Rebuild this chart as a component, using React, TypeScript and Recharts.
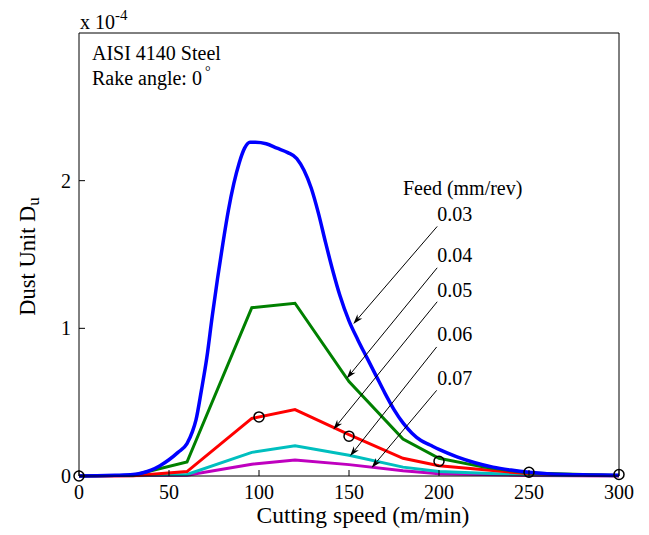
import React from "react";
import {
  ComposedChart,
  Line,
  Scatter,
  XAxis,
  YAxis,
  ReferenceLine,
  ReferenceDot,
} from "recharts";

const FONT = "'Liberation Serif', 'Times New Roman', serif";

const speedTicks = [0, 50, 100, 150, 200, 250, 300];
const dustTicks = [0, 1, 2];

// Dust unit in units of 1e-4, feed 0.03 mm/rev
const feed003 = [
  { x: 0, y: 0 }, { x: 10, y: 0.002 }, { x: 20, y: 0.005 }, { x: 30, y: 0.01 },
  { x: 35, y: 0.02 }, { x: 40, y: 0.04 }, { x: 45, y: 0.07 }, { x: 50, y: 0.11 },
  { x: 55, y: 0.16 }, { x: 60, y: 0.22 }, { x: 63, y: 0.3 }, { x: 65, y: 0.38 },
  { x: 68, y: 0.58 }, { x: 71, y: 0.8 }, { x: 74, y: 1.08 }, { x: 77, y: 1.34 },
  { x: 80, y: 1.58 }, { x: 83, y: 1.8 }, { x: 86, y: 1.98 }, { x: 89, y: 2.12 },
  { x: 92, y: 2.22 }, { x: 95, y: 2.26 }, { x: 98, y: 2.26 }, { x: 104, y: 2.25 },
  { x: 110, y: 2.22 }, { x: 116, y: 2.19 }, { x: 121, y: 2.15 }, { x: 125, y: 2.07 },
  { x: 129, y: 1.95 }, { x: 133, y: 1.78 }, { x: 137, y: 1.58 }, { x: 141, y: 1.39 },
  { x: 145, y: 1.22 }, { x: 150, y: 1.05 }, { x: 155, y: 0.92 }, { x: 160, y: 0.8 },
  { x: 165, y: 0.68 }, { x: 170, y: 0.56 }, { x: 175, y: 0.45 }, { x: 180, y: 0.36 },
  { x: 185, y: 0.29 }, { x: 190, y: 0.24 }, { x: 195, y: 0.21 }, { x: 200, y: 0.18 },
  { x: 210, y: 0.13 }, { x: 220, y: 0.09 }, { x: 230, y: 0.06 }, { x: 240, y: 0.04 },
  { x: 250, y: 0.025 }, { x: 260, y: 0.015 }, { x: 270, y: 0.01 }, { x: 280, y: 0.008 },
  { x: 290, y: 0.006 }, { x: 300, y: 0.005 },
];
const feed004 = [
  { x: 0, y: 0 }, { x: 30, y: 0.005 }, { x: 60, y: 0.095 }, { x: 96, y: 1.14 },
  { x: 120, y: 1.17 }, { x: 150, y: 0.64 }, { x: 180, y: 0.25 }, { x: 200, y: 0.12 },
  { x: 225, y: 0.06 }, { x: 250, y: 0.02 }, { x: 300, y: 0.003 },
];
const feed005 = [
  { x: 0, y: 0 }, { x: 30, y: 0.002 }, { x: 60, y: 0.03 }, { x: 96, y: 0.39 },
  { x: 120, y: 0.45 }, { x: 150, y: 0.28 }, { x: 180, y: 0.12 }, { x: 200, y: 0.07 },
  { x: 250, y: 0.015 }, { x: 300, y: 0.002 },
];
const feed006 = [
  { x: 0, y: 0 }, { x: 60, y: 0.01 }, { x: 96, y: 0.16 }, { x: 120, y: 0.205 },
  { x: 150, y: 0.14 }, { x: 180, y: 0.06 }, { x: 200, y: 0.03 }, { x: 250, y: 0.008 },
  { x: 300, y: 0.001 },
];
const feed007 = [
  { x: 0, y: 0 }, { x: 60, y: 0.005 }, { x: 96, y: 0.08 }, { x: 120, y: 0.108 },
  { x: 150, y: 0.077 }, { x: 180, y: 0.035 }, { x: 200, y: 0.015 }, { x: 250, y: 0.004 },
  { x: 300, y: 0 },
];
const measured = [
  { x: 0, y: 0 }, { x: 100, y: 0.4 }, { x: 150, y: 0.27 }, { x: 200, y: 0.1 },
  { x: 250, y: 0.025 }, { x: 300, y: 0.01 },
];

const feedLabels = ["0.03", "0.04", "0.05", "0.06", "0.07"];
const labelY = [1.725, 1.448, 1.211, 0.912, 0.615];
const arrowFrom = [
  { x: 199, y: 1.69 }, { x: 199, y: 1.41 }, { x: 199, y: 1.18 },
  { x: 198.7, y: 0.874 }, { x: 198.7, y: 0.58 },
];
const arrowTo = [
  { x: 152.4, y: 1.03 }, { x: 148.7, y: 0.66 }, { x: 141.3, y: 0.315 },
  { x: 150.6, y: 0.135 }, { x: 162.6, y: 0.056 },
];

const Arrow = (props: any) => {
  const { x1, y1, x2, y2 } = props;
  const a = Math.atan2(y2 - y1, x2 - x1);
  const len = 10;
  const w = 3.2;
  const bx = x2 - len * Math.cos(a);
  const by = y2 - len * Math.sin(a);
  const nx = -Math.sin(a) * w;
  const ny = Math.cos(a) * w;
  const mx = x2 - len * 0.7 * Math.cos(a);
  const my = y2 - len * 0.7 * Math.sin(a);
  return (
    <g>
      <line x1={x1} y1={y1} x2={mx} y2={my} stroke="#000" strokeWidth={1} />
      <path
        d={`M${x2},${y2} L${bx + nx},${by + ny} L${mx},${my} L${bx - nx},${by - ny} Z`}
        fill="#000"
      />
    </g>
  );
};

const textShape = (content: React.ReactNode, anchor = "start") => (props: any) => (
  <text x={props.cx} y={props.cy} fontFamily={FONT} fontSize={20} fill="#000" textAnchor={anchor}>
    {content}
  </text>
);

const BottomTick = (props: any) => {
  const { x, y, payload } = props;
  return (
    <g>
      <line x1={x} y1={y} x2={x} y2={y - 6} stroke="#000" />
      <text x={x} y={y + 23} textAnchor="middle" fontFamily={FONT} fontSize={20} fill="#000">
        {payload.value}
      </text>
    </g>
  );
};

const LeftTick = (props: any) => {
  const { x, y, payload } = props;
  return (
    <g>
      <line x1={x} y1={y} x2={x + 6} y2={y} stroke="#000" />
      <text x={x - 8} y={y + 7} textAnchor="end" fontFamily={FONT} fontSize={20} fill="#000">
        {payload.value}
      </text>
    </g>
  );
};

const TopTick = (props: any) => (
  <line x1={props.x} y1={props.y} x2={props.x} y2={props.y + 6} stroke="#000" />
);

const RightTick = (props: any) => (
  <line x1={props.x} y1={props.y} x2={props.x - 6} y2={props.y} stroke="#000" />
);

const YLabel = (props: any) => {
  const { viewBox } = props;
  const cx = viewBox.x + 27;
  const cy = viewBox.y + viewBox.height / 2 + 2;
  return (
    <text
      x={cx}
      y={cy}
      transform={`rotate(-90, ${cx}, ${cy})`}
      textAnchor="middle"
      fontFamily={FONT}
      fontSize={22.5}
      fill="#000"
    >
      Dust Unit D
      <tspan fontSize={17} dy={4}>u</tspan>
    </text>
  );
};

const XLabel = (props: any) => {
  const { viewBox } = props;
  return (
    <text
      x={viewBox.x + viewBox.width / 2 + 14}
      y={viewBox.y + 47}
      textAnchor="middle"
      fontFamily={FONT}
      fontSize={23.5}
      fill="#000"
    >
      Cutting speed (m/min)
    </text>
  );
};

const Circle = (props: any) => (
  <circle cx={props.cx} cy={props.cy} r={5} fill="none" stroke="#000" strokeWidth={1.5} />
);

export default function App() {
  const series = [
    { data: feed007, color: "#bf00bf", name: "0.07" },
    { data: feed006, color: "#00bfbf", name: "0.06" },
    { data: feed005, color: "#ff0000", name: "0.05" },
    { data: feed004, color: "#008000", name: "0.04" },
  ];
  return (
    <div style={{ width: 633, height: 527, background: "#fff" }}>
      <ComposedChart
        width={633}
        height={527}
        margin={{ top: 24, right: 21, bottom: 0, left: 0 }}
      >
        <XAxis
          xAxisId={0}
          type="number"
          dataKey="x"
          domain={[0, 300]}
          ticks={speedTicks}
          height={59}
          tickSize={0}
          tickMargin={0}
          tick={<BottomTick />}
          axisLine={{ stroke: "#000" }}
          label={<XLabel />}
        />
        <XAxis
          xAxisId="top"
          orientation="top"
          type="number"
          domain={[0, 300]}
          ticks={speedTicks}
          height={1}
          tickSize={0}
          tickMargin={0}
          tick={<TopTick />}
          axisLine={{ stroke: "#000" }}
        />
        <YAxis
          yAxisId={0}
          type="number"
          domain={[0, 3]}
          ticks={dustTicks}
          width={71}
          tickSize={0}
          tickMargin={0}
          tick={<LeftTick />}
          axisLine={{ stroke: "#000" }}
          label={<YLabel />}
        />
        <YAxis
          yAxisId="right"
          orientation="right"
          type="number"
          domain={[0, 3]}
          ticks={dustTicks}
          width={1}
          tickSize={0}
          tickMargin={0}
          tick={<RightTick />}
          axisLine={{ stroke: "#000" }}
        />

        {series.map((s) => (
          <Line
            key={s.name}
            data={s.data}
            dataKey="y"
            type="linear"
            stroke={s.color}
            strokeWidth={3}
            dot={false}
            isAnimationActive={false}
          />
        ))}
        <Line
          data={feed003}
          dataKey="y"
          type="monotone"
          stroke="#0000ff"
          strokeWidth={3.5}
          dot={false}
          isAnimationActive={false}
        />
        <Scatter data={measured} dataKey="y" shape={<Circle />} isAnimationActive={false} />

        {arrowFrom.map((p, i) => (
          <ReferenceLine
            key={`arrow-${i}`}
            segment={[p, arrowTo[i]]}
            ifOverflow="visible"
            shape={<Arrow />}
          />
        ))}
        {feedLabels.map((t, i) => (
          <ReferenceDot
            key={`lbl-${t}`}
            x={199}
            y={labelY[i]}
            ifOverflow="visible"
            shape={textShape(t)}
          />
        ))}
        <ReferenceDot x={180} y={1.9} ifOverflow="visible" shape={textShape("Feed (mm/rev)")} />
        <ReferenceDot x={7.2} y={2.82} ifOverflow="visible" shape={textShape("AISI 4140 Steel")} />
        <ReferenceDot
          x={7.2}
          y={2.65}
          ifOverflow="visible"
          shape={textShape(
            <>
              Rake angle: 0<tspan fontSize={14} dx={3} dy={-9}>°</tspan>
            </>
          )}
        />
        <ReferenceDot
          x={0.5}
          y={3.03}
          ifOverflow="visible"
          shape={textShape(
            <>
              x 10<tspan fontSize={15} dy={-9}>-4</tspan>
            </>
          )}
        />
      </ComposedChart>
    </div>
  );
}
